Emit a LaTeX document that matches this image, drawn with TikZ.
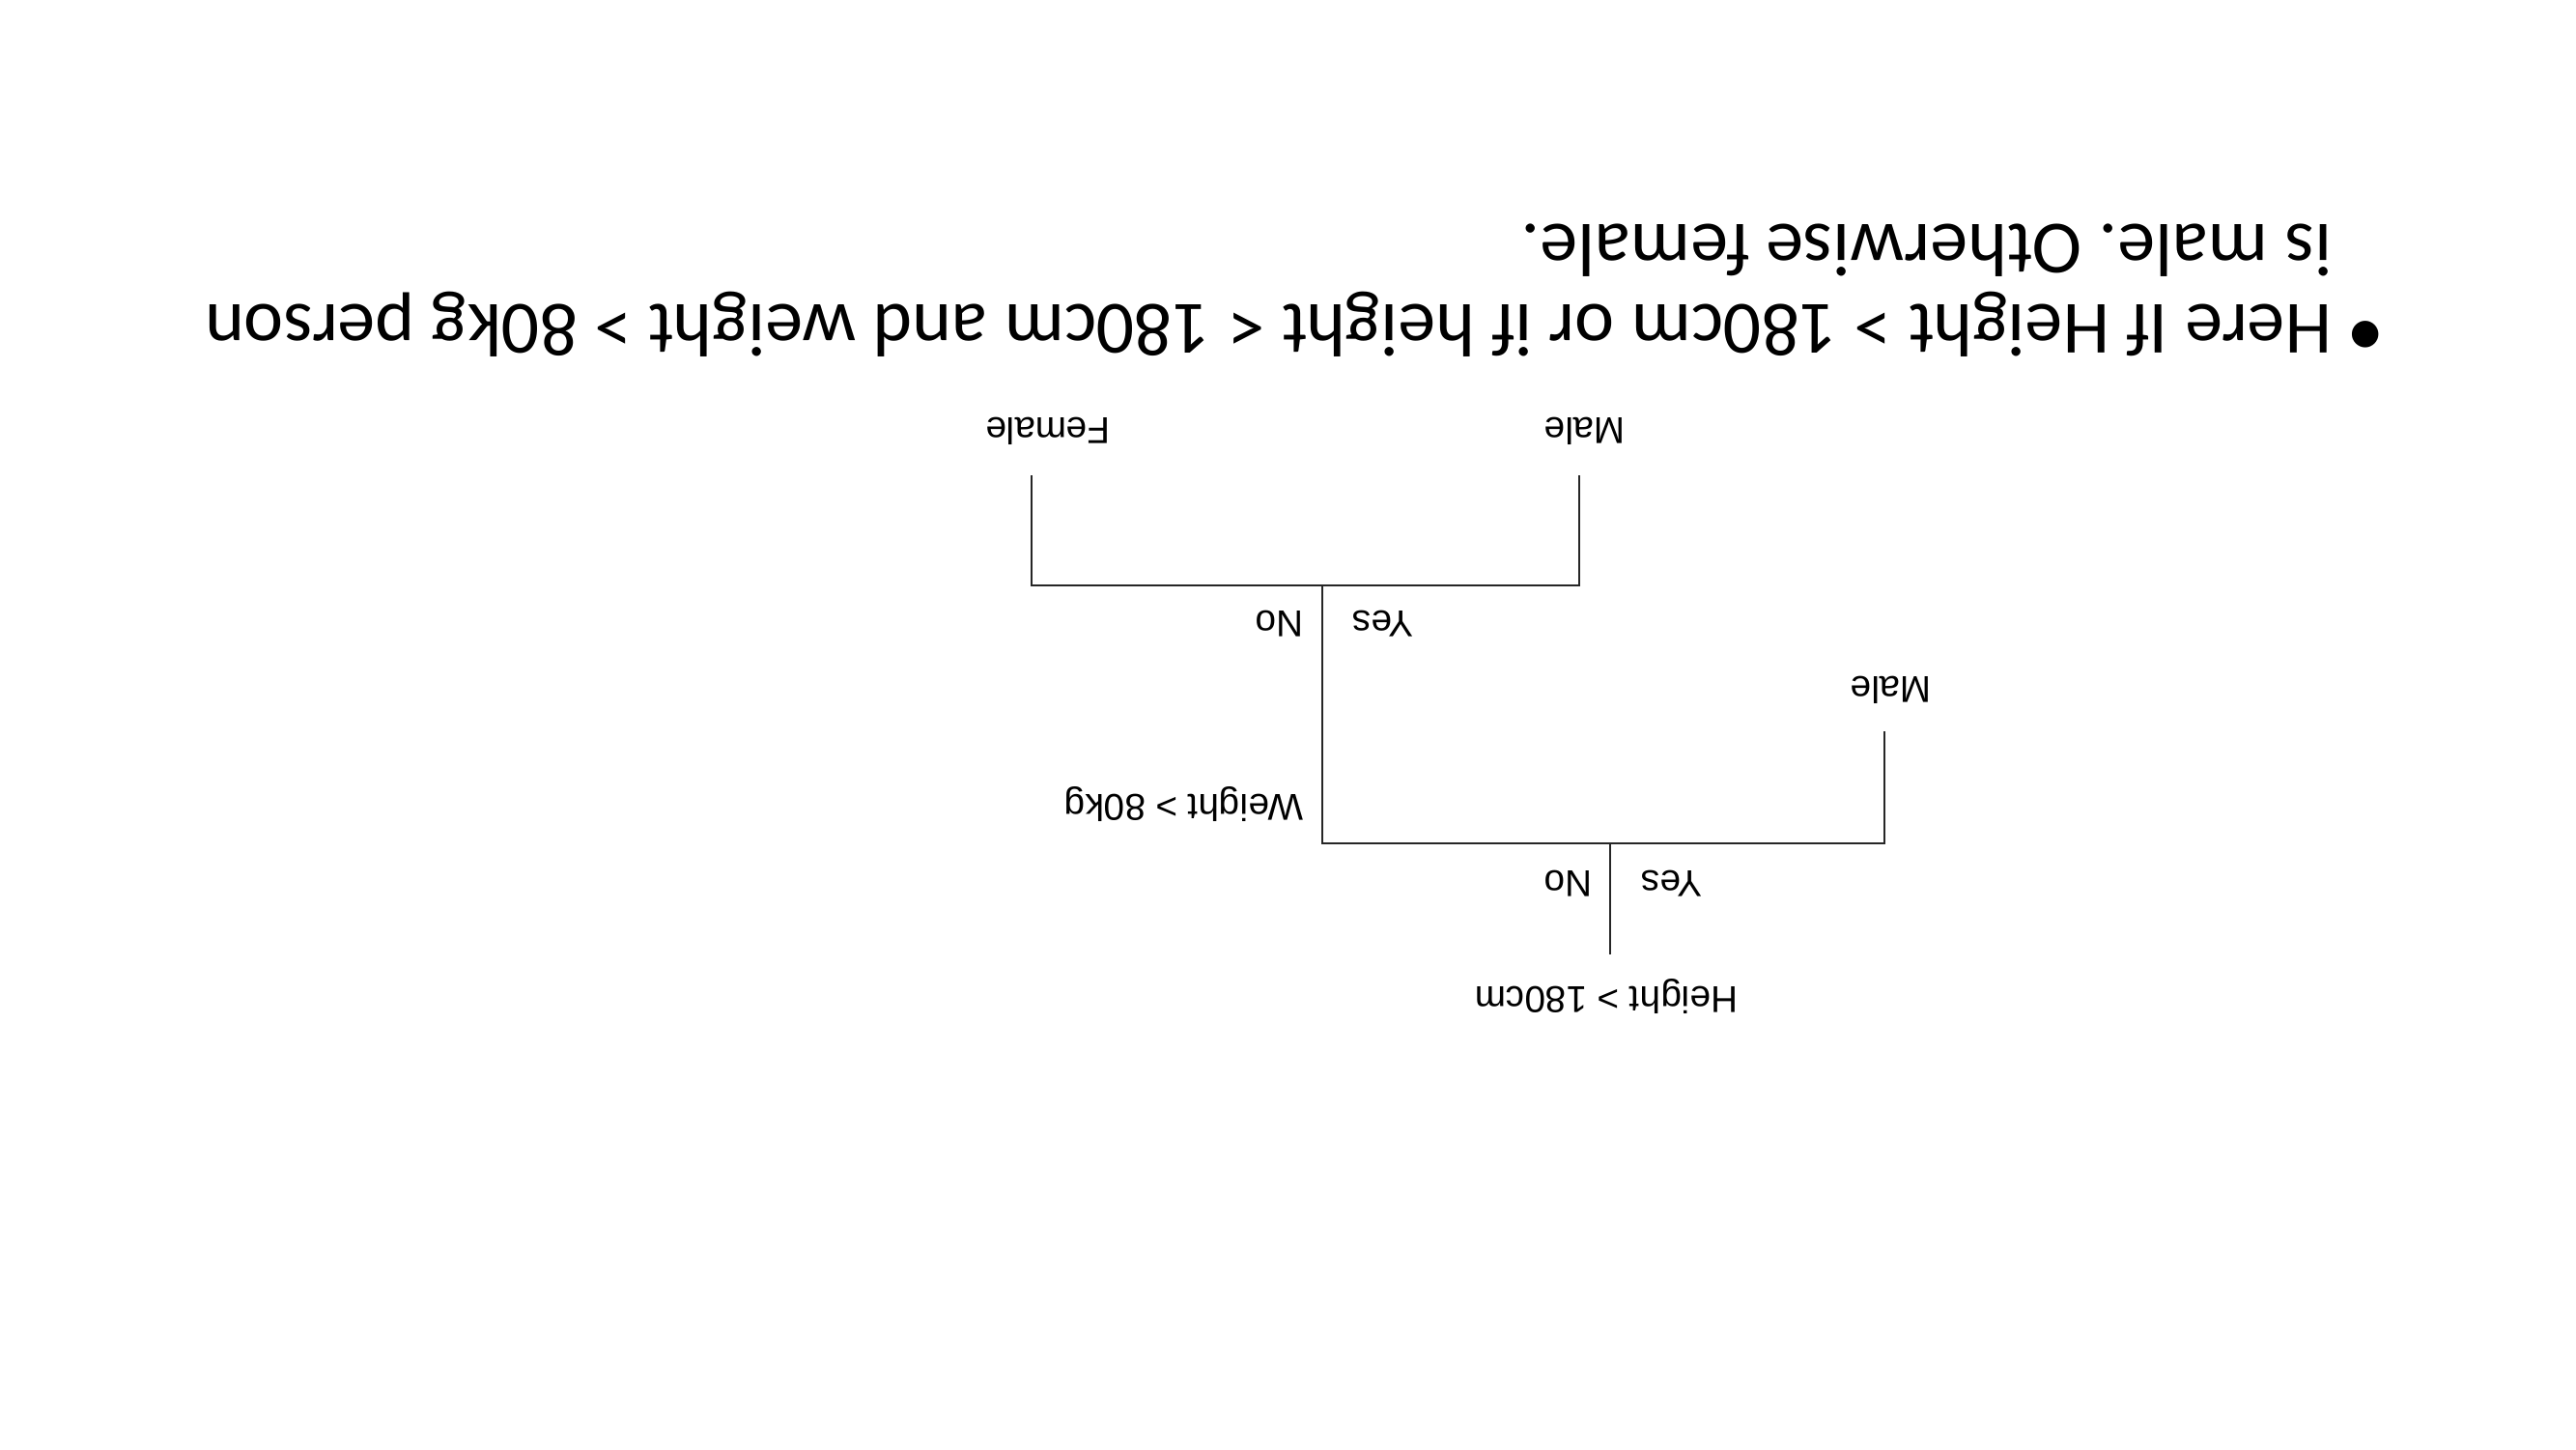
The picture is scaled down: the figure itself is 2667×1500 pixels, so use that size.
\documentclass[tikz,border=0pt]{standalone}
\usepackage{fontspec}
\setmainfont{Carlito}
\newfontfamily\labelfont{Liberation Sans}
\frenchspacing
\begin{document}
\begin{tikzpicture}[x=0.01cm,y=-0.01cm,
  leaf/.style={font=\labelfont\fontsize{11}{13}\selectfont, rotate=180, inner sep=0pt},
  branch/.style={line width=0.6pt, black!85},
  bodytext/.style={font=\fontsize{22.1}{26.5}\selectfont, rotate=180, inner sep=0pt, anchor=west}]
\useasboundingbox (0,0) rectangle (2667,1500);

% tree junctions and branch ends
\coordinate (root) at (1667,988);
\coordinate (j1)   at (1667,873);
\coordinate (j1l)  at (1369,873);
\coordinate (j1r)  at (1951,873);
\coordinate (rmt)  at (1951,757);
\coordinate (j2)   at (1369,606);
\coordinate (j2l)  at (1068,606);
\coordinate (j2r)  at (1635,606);
\coordinate (lft)  at (1068,492);
\coordinate (lmt)  at (1635,492);

\draw[branch] (root) -- (j1);
\draw[branch] (rmt) -- (j1r) -- (j1l) -- (j2);
\draw[branch] (lmt) -- (j2r) -- (j2l) -- (lft);

% labels
\node[leaf] (height) at (1663,1031) {Height > 180cm};
\node[leaf] (yes1)   at (1731,915) {Yes};
\node[leaf] (no1)    at (1624,915) {No};
\node[leaf] (weight) at (1226,832) {Weight > 80kg};
\node[leaf] (male1)  at (1958,714) {Male};
\node[leaf] (yes2)   at (1432,646) {Yes};
\node[leaf] (no2)    at (1325,646) {No};
\node[leaf] (male2)  at (1641,446) {Male};
\node[leaf] (female) at (1085,446) {Female};

% explanatory bullet
\node[font=\fontsize{22.1}{26.5}\selectfont, rotate=180, inner sep=0pt] (bullet) at (2449,342) {•};
\node[bodytext] (line1) at (2415,336) {Here If Height > 180cm or if height < 180cm and weight > 80kg person};
\node[bodytext] (line2) at (2415,259) {is male. Otherwise female.};
\end{tikzpicture}
\end{document}
